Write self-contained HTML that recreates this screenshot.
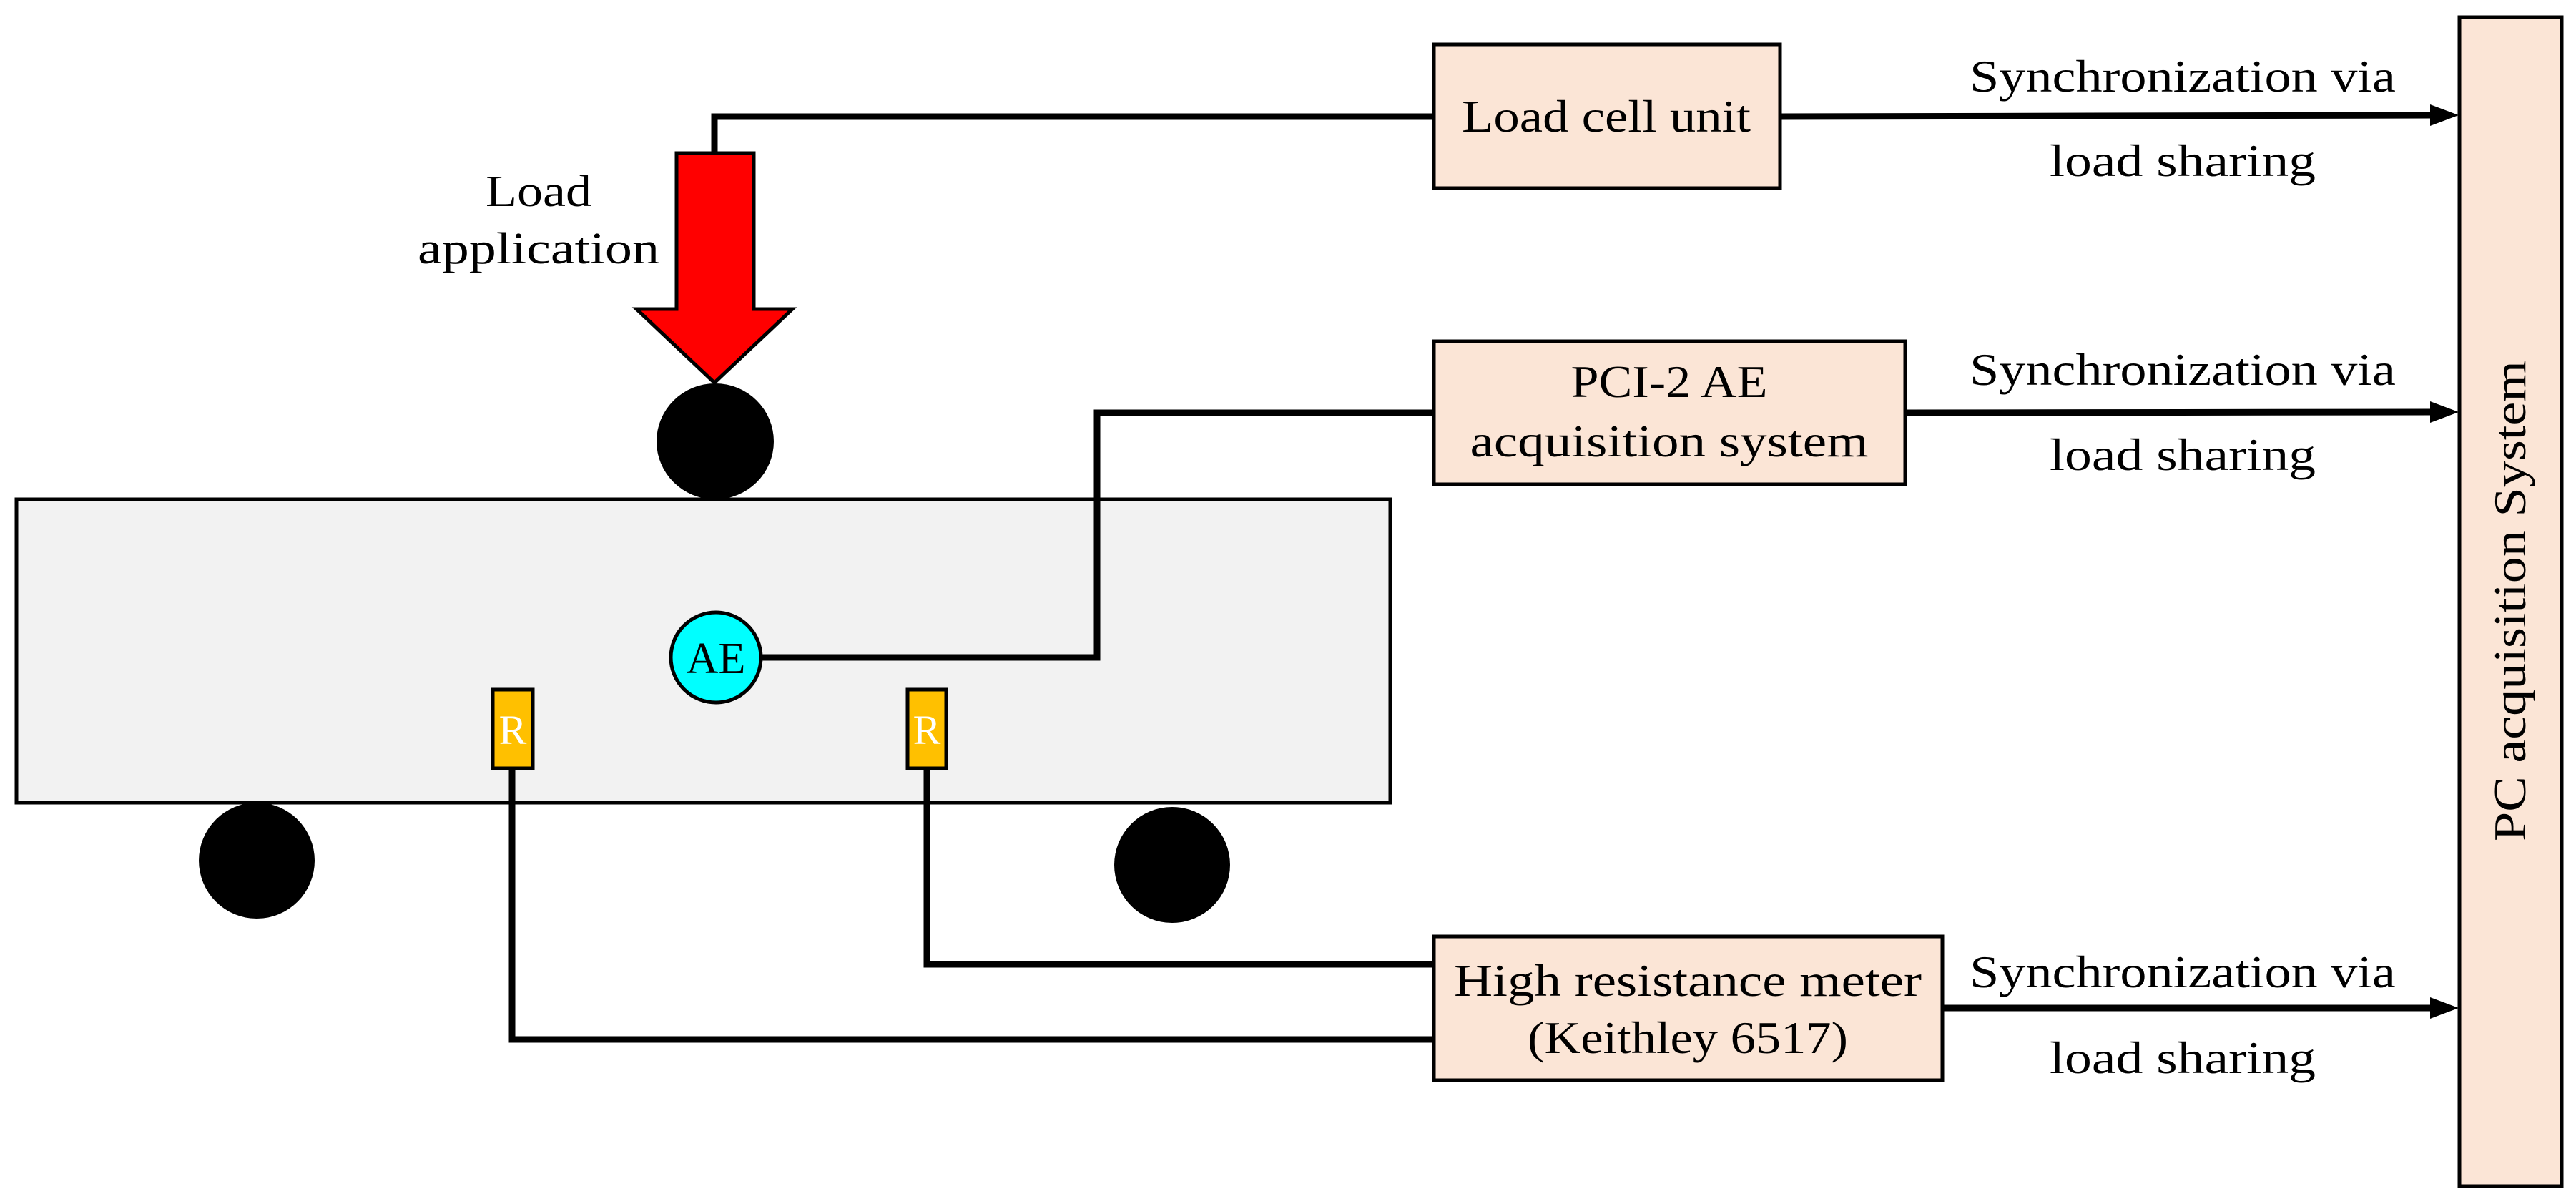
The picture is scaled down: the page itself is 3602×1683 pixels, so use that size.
<!DOCTYPE html>
<html><head><meta charset="utf-8"><style>
html,body{margin:0;padding:0;background:#fff;}
svg{display:block;}
text{font-family:"Liberation Serif",serif;fill:#000;}
</style></head><body>
<svg width="3602" height="1683" viewBox="0 0 3602 1683" xmlns="http://www.w3.org/2000/svg">
<!-- beam -->
<rect x="23" y="698" width="1921" height="424" fill="#f2f2f2" stroke="#000" stroke-width="5"/>
<!-- rollers -->
<ellipse cx="1000" cy="617" rx="82" ry="81" fill="#000"/>
<ellipse cx="359" cy="1203" rx="81" ry="81" fill="#000"/>
<ellipse cx="1639" cy="1209" rx="81" ry="81" fill="#000"/>
<!-- wires -->
<g fill="none" stroke="#000" stroke-width="9">
<polyline points="999,214 999,163 2005,163"/>
<polyline points="1065,919 1534,919 1534,577 2005,577"/>
<polyline points="716,1074 716,1453 2005,1453"/>
<polyline points="1296,1074 1296,1348 2005,1348"/>
<line x1="2489" y1="163" x2="3400" y2="161"/>
<line x1="2664" y1="577" x2="3400" y2="576"/>
<line x1="2716" y1="1409" x2="3400" y2="1409"/>
</g>
<g fill="#000">
<polygon points="3438,161 3398,146 3398,176"/>
<polygon points="3438,576 3398,561 3398,591"/>
<polygon points="3438,1409 3398,1394 3398,1424"/>
</g>
<!-- red arrow -->
<polygon points="946,214 1054,214 1054,432 1108,432 999,535 890,432 946,432" fill="#ff0000" stroke="#000" stroke-width="5"/>
<!-- AE -->
<circle cx="1001" cy="919" r="63" fill="#00ffff" stroke="#000" stroke-width="5"/>
<text x="1001" y="941" font-size="62" text-anchor="middle">AE</text>
<!-- R -->
<rect x="689" y="964" width="56" height="110" fill="#ffc000" stroke="#000" stroke-width="5"/>
<text x="717" y="1040" font-size="58" text-anchor="middle" style="fill:#fff">R</text>
<rect x="1269" y="964" width="54" height="110" fill="#ffc000" stroke="#000" stroke-width="5"/>
<text x="1296" y="1040" font-size="58" text-anchor="middle" style="fill:#fff">R</text>
<!-- load text -->
<text x="753" y="288" font-size="62" text-anchor="middle" textLength="148" lengthAdjust="spacingAndGlyphs">Load</text>
<text x="753" y="368" font-size="62" text-anchor="middle" textLength="338" lengthAdjust="spacingAndGlyphs">application</text>
<!-- boxes -->
<g fill="#fbe5d6" stroke="#000" stroke-width="5">
<rect x="2005" y="62" width="484" height="201"/>
<rect x="2005" y="477" width="659" height="200"/>
<rect x="2005" y="1309" width="711" height="201"/>
<rect x="3439" y="24" width="143" height="1634"/>
</g>
<g font-size="64" text-anchor="middle">
<text x="2246" y="184" textLength="404" lengthAdjust="spacingAndGlyphs">Load cell unit</text>
<text x="2334" y="555" textLength="275" lengthAdjust="spacingAndGlyphs">PCI-2 AE</text>
<text x="2334" y="638" textLength="557" lengthAdjust="spacingAndGlyphs">acquisition system</text>
<text x="2360" y="1392" textLength="654" lengthAdjust="spacingAndGlyphs">High resistance meter</text>
<text x="2360" y="1472" textLength="448" lengthAdjust="spacingAndGlyphs">(Keithley 6517)</text>
<text x="3052" y="128" textLength="596" lengthAdjust="spacingAndGlyphs">Synchronization via</text>
<text x="3052" y="246" textLength="372" lengthAdjust="spacingAndGlyphs">load sharing</text>
<text x="3052" y="538" textLength="596" lengthAdjust="spacingAndGlyphs">Synchronization via</text>
<text x="3052" y="657" textLength="372" lengthAdjust="spacingAndGlyphs">load sharing</text>
<text x="3052" y="1380" textLength="596" lengthAdjust="spacingAndGlyphs">Synchronization via</text>
<text x="3052" y="1500" textLength="372" lengthAdjust="spacingAndGlyphs">load sharing</text>
<text transform="translate(3531,840) rotate(-90)" x="0" y="0" textLength="672" lengthAdjust="spacingAndGlyphs">PC acquisition System</text>
</g>
</svg>
</body></html>
